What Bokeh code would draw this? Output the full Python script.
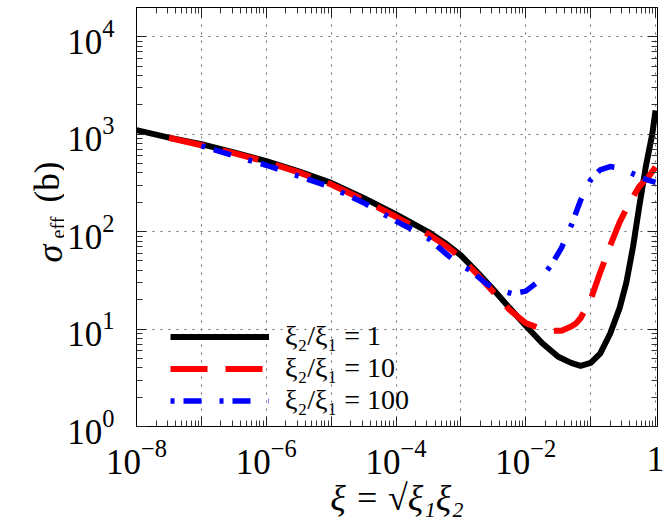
import math
from bokeh.plotting import figure
from bokeh.layouts import row
from bokeh.models import (FixedTicker, LogAxis, LogTickFormatter, Legend, LegendItem,
                          Label, Range1d)
from bokeh.embed import file_html
from bokeh.resources import INLINE

# ---------------- data ----------------
# xi2/xi1 = 1
xi_r1 = [1e-8, 3.16e-8, 1e-7, 3.16e-7, 1e-6, 3.16e-6, 1e-5, 3.16e-5, 1e-4, 3.16e-4,
         5.6e-4, 1e-3, 1.78e-3, 3.16e-3, 5.6e-3, 1e-2, 0.0178, 0.0316, 0.05, 0.07,
         0.1, 0.14, 0.2, 0.28, 0.355, 0.45, 0.56, 0.71, 0.89, 1.0]
sig_r1 = [1100, 920, 790, 650, 530, 415, 316, 222, 150, 99,
          77, 57, 38.5, 25.5, 16.5, 10.8, 7.2, 5.2, 4.5, 4.2,
          4.5, 5.6, 9.0, 16.5, 30, 70, 180, 470, 1000, 1750]

# xi2/xi1 = 10
xi_r10 = [3.16e-8, 1e-7, 3.16e-7, 1e-6, 3.16e-6, 1e-5, 3.16e-5, 1e-4, 3.16e-4, 5.6e-4,
          1e-3, 1.78e-3, 3.16e-3, 5.6e-3, 1e-2, 0.0158, 0.025, 0.0355, 0.05, 0.06,
          0.07, 0.1, 0.14, 0.2, 0.28, 0.4, 0.56, 0.79, 1.0]
sig_r10 = [920, 770, 640, 520, 405, 305, 212, 142, 94, 73,
           54, 36.5, 24, 15.8, 11.5, 10.3, 9.6, 9.6, 10.6, 11.5,
           13, 20, 38, 72, 125, 200, 290, 370, 460]

# xi2/xi1 = 100
xi_r100 = [1e-7, 3.16e-7, 1e-6, 3.16e-6, 1e-5, 3.16e-5, 1e-4, 1.78e-4, 3.16e-4, 6.3e-4,
           1e-3, 1.4e-3, 2.5e-3, 4e-3, 6.3e-3, 1e-2, 0.0158, 0.025, 0.0355, 0.05,
           0.07, 0.1, 0.14, 0.2, 0.28, 0.5, 0.79, 1.0]
sig_r100 = [760, 600, 480, 370, 285, 198, 128, 105, 85, 57,
            45, 40, 29, 25, 23, 24.5, 31, 46, 68, 115,
            210, 340, 430, 465, 450, 380, 335, 320]

legend_labels = ["ξ₂/ξ₁ = 1", "ξ₂/ξ₁ = 10", "ξ₂/ξ₁ = 100"]
x_title = "ξ = √ξ₁ξ₂"

# ticks
x_major = [1e-8, 1e-7, 1e-6, 1e-5, 1e-4, 1e-3, 1e-2, 1e-1, 1.0]
y_major = [1.0, 10.0, 100.0, 1000.0, 10000.0]
x_label_overrides = {1e-7: " ", 1e-5: " ", 1e-3: " ", 1e-1: " ", 1.0: "1"}

FONT = "Liberation Serif"

x_minor = [m * t for t in x_major[:-1] for m in range(2, 10)]
y_minor = [m * t for t in y_major for m in range(2, 10)]

W, H = 664, 520
LW = 64  # width of the strip holding the y-axis title
FRAME_BOTTOM = 427  # page y of the frame bottom (frames are aligned in the row)

p = figure(width=W - LW, height=H, x_axis_type="log", y_axis_type="log",
           x_range=Range1d(1e-8, 10 ** 0.03), y_range=Range1d(1, 10 ** 4.3),
           output_backend="svg", toolbar_location=None,
           min_border_left=134 - LW, min_border_right=7, min_border_top=7,
           min_border_bottom=H - FRAME_BOTTOM)

p.outline_line_color = "black"
p.outline_line_width = 1
p.background_fill_color = "white"
p.border_fill_color = "white"

xt = FixedTicker(ticks=x_major, minor_ticks=x_minor)
yt = FixedTicker(ticks=y_major, minor_ticks=y_minor)

def style_axis(ax, ticker, major_len, minor_len):
    ax.ticker = ticker
    ax.major_tick_in = major_len
    ax.major_tick_out = 0
    ax.minor_tick_in = minor_len
    ax.minor_tick_out = 0
    ax.major_tick_line_color = "#222222"
    ax.minor_tick_line_color = "#333333"
    ax.axis_line_color = "black"
    ax.major_label_text_font = FONT
    ax.major_label_text_font_size = "35px"
    ax.major_label_text_color = "black"

style_axis(p.xaxis[0], xt, 10, 6)
style_axis(p.yaxis[0], yt, 10, 6)
p.xaxis[0].formatter = LogTickFormatter()
p.yaxis[0].formatter = LogTickFormatter()
p.xaxis[0].major_label_overrides = x_label_overrides
p.xaxis[0].major_label_standoff = 13
p.yaxis[0].major_label_standoff = 22

p.xaxis[0].axis_label = x_title
p.xaxis[0].axis_label_text_font = FONT
p.xaxis[0].axis_label_text_font_size = "36px"
p.xaxis[0].axis_label_text_font_style = "italic"
p.xaxis[0].axis_label_text_color = "black"
p.xaxis[0].axis_label_standoff = -4

# mirror axes (ticks only)
top_ax = LogAxis()
right_ax = LogAxis()
style_axis(top_ax, xt, 10, 6)
style_axis(right_ax, yt, 10, 6)
for ax in (top_ax, right_ax):
    ax.major_label_text_font_size = "1px"
    ax.major_label_text_alpha = 0
    ax.major_label_standoff = 0
p.add_layout(top_ax, "above")
p.add_layout(right_ax, "right")

# grid
p.xgrid.ticker = FixedTicker(ticks=x_major)
p.ygrid.ticker = FixedTicker(ticks=y_major)
for g in (p.xgrid[0], p.ygrid[0]):
    g.grid_line_color = "#666666"
    g.grid_line_dash = "2 6"
    g.grid_line_width = 1

r1 = p.line(xi_r1, sig_r1, line_color="black", line_width=6)
r2 = p.line(xi_r10, sig_r10, line_color="red", line_width=6, line_dash="37 18")
r3 = p.line(xi_r100, sig_r100, line_color="blue", line_width=5.5, line_dash="4 9 18 18")

legend = Legend(items=[LegendItem(label=legend_labels[0], renderers=[r1]),
                       LegendItem(label=legend_labels[1], renderers=[r2]),
                       LegendItem(label=legend_labels[2], renderers=[r3])],
                location=(34, 10), glyph_width=99, glyph_height=31, label_height=31,
                spacing=0, padding=0, margin=0, label_standoff=16,
                label_text_font=FONT, label_text_font_size="28px",
                label_text_color="black", label_text_baseline="middle",
                background_fill_alpha=0, border_line_color=None)
p.add_layout(legend)

# ---- strip on the left holding the y-axis title sigma_eff (b) ----
yl = figure(width=LW, height=H, output_backend="svg", toolbar_location=None,
            x_range=Range1d(0, 1), y_range=Range1d(0, 1),
            x_axis_location=None, y_axis_location=None,
            min_border_left=0, min_border_right=0, min_border_top=7,
            min_border_bottom=H - FRAME_BOTTOM)
yl.outline_line_color = None
yl.grid.visible = False
yl.background_fill_color = "white"
yl.border_fill_color = "white"

ang = math.pi / 2
yl.add_layout(Label(x=49, y=FRAME_BOTTOM - 263, x_units="screen", y_units="screen",
                    text="σ", angle=ang, text_font=FONT, text_font_size="36px",
                    text_font_style="italic", text_align="left",
                    text_baseline="alphabetic", text_color="black"))
yl.add_layout(Label(x=57, y=FRAME_BOTTOM - 239, x_units="screen", y_units="screen",
                    text="eff", angle=ang, text_font=FONT, text_font_size="20px",
                    text_align="left", text_baseline="alphabetic", text_color="black"))
yl.add_layout(Label(x=47, y=FRAME_BOTTOM - 203, x_units="screen", y_units="screen",
                    text="(b)", angle=ang, text_font=FONT, text_font_size="35px",
                    text_align="left", text_baseline="alphabetic", text_color="black"))

layout = row(yl, p, spacing=0)
open("out.html", "w").write(file_html(layout, INLINE))
